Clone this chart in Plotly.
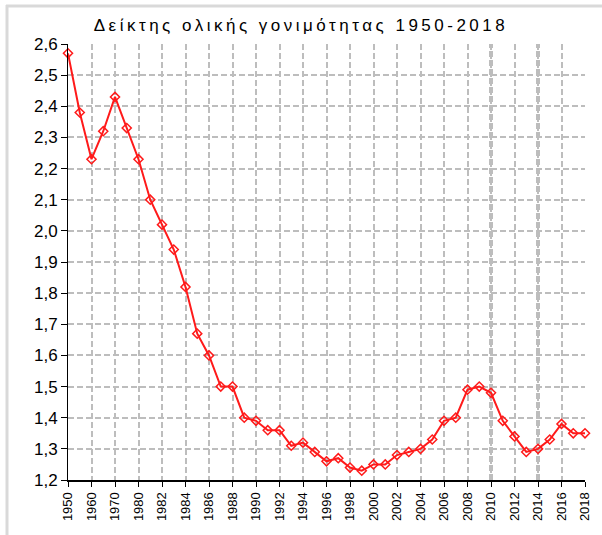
import plotly.graph_objects as go

years = ['1950', '1955', '1960', '1965', '1970', '1975', '1980'] + [str(y) for y in range(1981, 2019)]
tfr = [2.57, 2.38, 2.23, 2.32, 2.43, 2.33, 2.23,
       2.10, 2.02, 1.94, 1.82, 1.67, 1.60, 1.50, 1.50, 1.40, 1.39,
       1.36, 1.36, 1.31, 1.32, 1.29, 1.26, 1.27, 1.24, 1.23, 1.25,
       1.25, 1.28, 1.29, 1.30, 1.33, 1.39, 1.40, 1.49, 1.50, 1.48,
       1.39, 1.34, 1.29, 1.30, 1.33, 1.38, 1.35, 1.35]

W, H = 602, 535
L, R, T, B = 68, 17, 44, 55
pw, ph = W - L - R, H - T - B

def px_x(x):
    return (x - L) / pw

def px_y(y):
    return (H - B - y) / ph

idx = list(range(len(years)))
grid_dash = '6px,3px'

fig = go.Figure()
fig.add_trace(go.Scatter(x=idx, y=tfr, mode='lines+markers',
                         line=dict(color='#ff1a1a', width=2),
                         marker=dict(symbol='diamond-open', size=7, color='#ff1a1a',
                                     line=dict(width=1.5)),
                         cliponaxis=False, hoverinfo='text',
                         hovertext=[f'{y}: {v}' for y, v in zip(years, tfr)]))

shapes = []
# thicker grid lines seen at 2010 and 2014
for yr in ['2010', '2014']:
    i = years.index(yr)
    shapes.append(dict(type='line', xref='x', yref='paper', x0=i, x1=i, y0=0, y1=1,
                       line=dict(color='#bdbdbd', width=4, dash=grid_dash), layer='below'))
# outer grey frame
shapes.append(dict(type='line', xref='paper', yref='paper', x0=px_x(7), x1=px_x(7),
                   y0=px_y(5), y1=px_y(535), line=dict(color='#d9d9d9', width=3)))
shapes.append(dict(type='line', xref='paper', yref='paper', x0=px_x(6), x1=px_x(602),
                   y0=px_y(6), y1=px_y(6), line=dict(color='#d9d9d9', width=3)))

fig.update_xaxes(range=[0, len(years) - 1], tickmode='array',
                 tickvals=idx[::2], ticktext=years[::2], tickangle=-90,
                 showline=True, linecolor='black', linewidth=2,
                 ticks='outside', ticklen=5, tickcolor='black', tickwidth=1,
                 showgrid=True, gridcolor='#bdbdbd', griddash=grid_dash, gridwidth=2,
                 zeroline=False, tickfont=dict(family='Liberation Sans, Arial', size=13, color='black'))
fig.update_yaxes(range=[1.2, 2.6], dtick=0.1, tickformat='.1f',
                 showline=True, linecolor='black', linewidth=1,
                 ticks='outside', ticklen=6, tickcolor='black',
                 showgrid=True, gridcolor='#bdbdbd', griddash=grid_dash, gridwidth=2,
                 zeroline=False, tickfont=dict(family='Liberation Sans, Arial', size=17, color='black'))
fig.update_layout(
    width=W, height=H,
    margin=dict(l=L, r=R, t=T, b=B, autoexpand=False),
    separators=',.',
    paper_bgcolor='white', plot_bgcolor='white',
    showlegend=False,
    shapes=shapes,
    title=dict(text='Δείκτης ολικής γονιμότητας 1950-2018', x=0.5, xref='container',
               y=1 - 25 / H, yanchor='middle',
               font=dict(family='Liberation Sans, Arial', size=17, color='black')))

fig.write_html('out.html', config={'displayModeBar': False},
               post_script="document.body.style.margin='0';document.body.style.overflow='hidden';"
                           "document.querySelectorAll('.gtitle').forEach(function(t){t.style.letterSpacing='3.5px';});")
